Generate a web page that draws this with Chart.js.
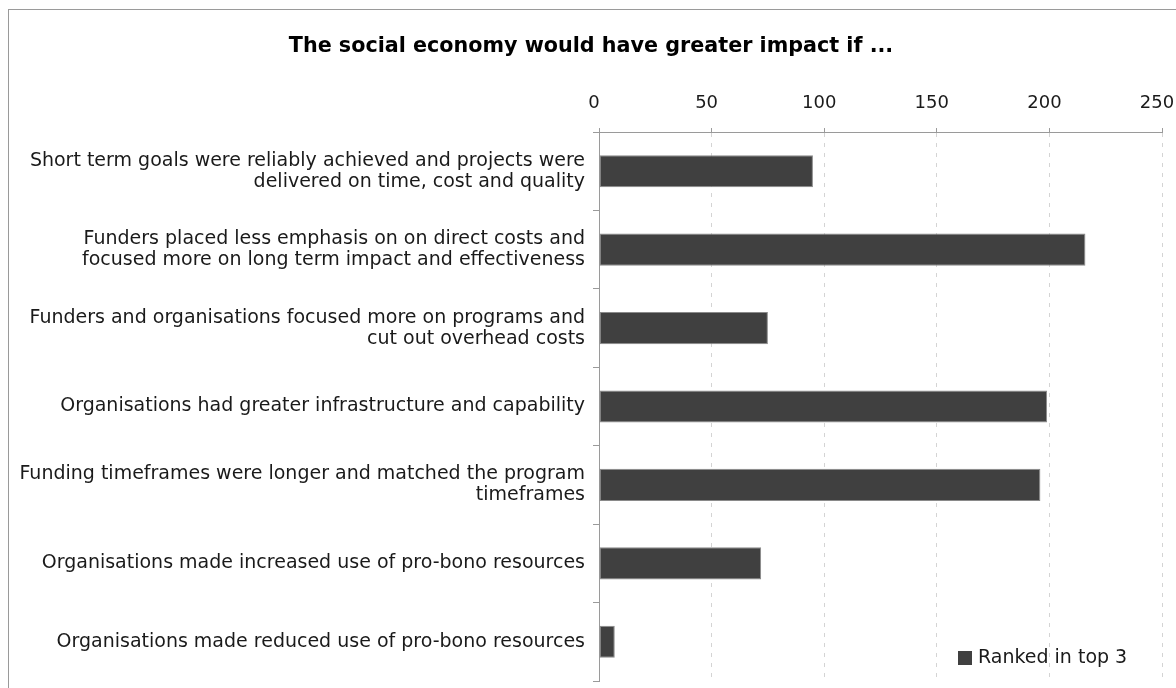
<!DOCTYPE html>
<html>
<head>
<meta charset="utf-8">
<title>The social economy would have greater impact if ...</title>
<script src="https://cdn.jsdelivr.net/npm/chart.js@4/dist/chart.umd.min.js"></script>
<style>
  html, body { margin: 0; padding: 0; background: #fff; overflow: hidden; }
  .frame {
    position: absolute; left: 8px; top: 9px; width: 1180px; height: 690px;
    border: 1px solid #9a9a9a;
  }
  #chart { position: absolute; left: 0; top: 0; }
</style>
</head>
<body>
<div class="frame"></div>
<canvas id="chart" width="1176" height="688"></canvas>
<script>
const categorias = [
  ['Short term goals were reliably achieved and projects were', 'delivered on time, cost and quality'],
  ['Funders placed less emphasis on on direct costs and', 'focused more on long term impact and effectiveness'],
  ['Funders and organisations focused more on programs and', 'cut out overhead costs'],
  'Organisations had greater infrastructure and capability',
  ['Funding timeframes were longer and matched the program', 'timeframes'],
  'Organisations made increased use of pro-bono resources',
  'Organisations made reduced use of pro-bono resources'
];
const rankedTop3 = [95, 216, 75, 199, 196, 72, 7];
const ticksX = [0, 50, 100, 150, 200, 250];

const fonte = 'DejaVu Sans';
const corBarra = '#404040';
const corEixo = '#9a9a9a';

// legenda desenhada dentro da área do gráfico, canto inferior direito
const legendaInterna = {
  id: 'legendaInterna',
  afterDatasetsDraw(chart) {
    const { ctx, chartArea } = chart;
    const x = chartArea.right - 204;
    const y = chartArea.bottom - 30;
    ctx.save();
    ctx.fillStyle = corBarra;
    ctx.fillRect(x, y, 14, 14);
    ctx.fillStyle = '#1a1a1a';
    ctx.font = '19px "' + fonte + '"';
    ctx.textBaseline = 'middle';
    ctx.textAlign = 'left';
    ctx.fillText(chart.data.datasets[0].label, x + 20, y + 7.5);
    ctx.restore();
  }
};

new Chart(document.getElementById('chart'), {
  type: 'bar',
  data: {
    labels: categorias,
    datasets: [{
      label: 'Ranked in top 3',
      data: rankedTop3,
      backgroundColor: corBarra,
      borderColor: '#8a8a8a',
      borderWidth: 1,
      borderSkipped: false,
      categoryPercentage: 1,
      barPercentage: 0.41
    }]
  },
  options: {
    indexAxis: 'y',
    responsive: false,
    animation: false,
    layout: { padding: { left: 6, right: 0, top: 0, bottom: 7 } },
    plugins: {
      legend: { display: false },
      tooltip: { enabled: false },
      title: {
        display: true,
        text: 'The social economy would have greater impact if ...',
        color: '#000',
        font: { family: fonte, size: 20.7, weight: 'bold' },
        padding: { top: 34.6, bottom: 0 }
      }
    },
    scales: {
      x: {
        position: 'top',
        min: 0,
        max: 250,
        afterBuildTicks: s => { s.ticks = ticksX.map(v => ({ value: v })); },
        afterFit: s => {
          s.height = 72.6;
          s.paddingLeft = 0;
          s.paddingRight = 14;
        },
        ticks: {
          color: '#1a1a1a',
          padding: 14,
          labelOffset: -5,
          font: { family: fonte, size: 18 }
        },
        grid: {
          color: '#d4d4d4',
          tickColor: corEixo,
          tickLength: 4,
          tickBorderDash: []
        },
        border: { color: corEixo, dash: [4, 6] }
      },
      y: {
        afterFit: s => {
          s.width = 593;
          s.paddingTop = 0;
          s.paddingBottom = 0;
        },
        ticks: {
          color: '#1a1a1a',
          padding: 8,
          font: { family: fonte, size: 19, lineHeight: 1.105 }
        },
        grid: {
          drawOnChartArea: false,
          tickColor: corEixo,
          tickLength: 6
        },
        border: { color: corEixo }
      }
    }
  },
  plugins: [legendaInterna]
});
</script>
</body>
</html>
